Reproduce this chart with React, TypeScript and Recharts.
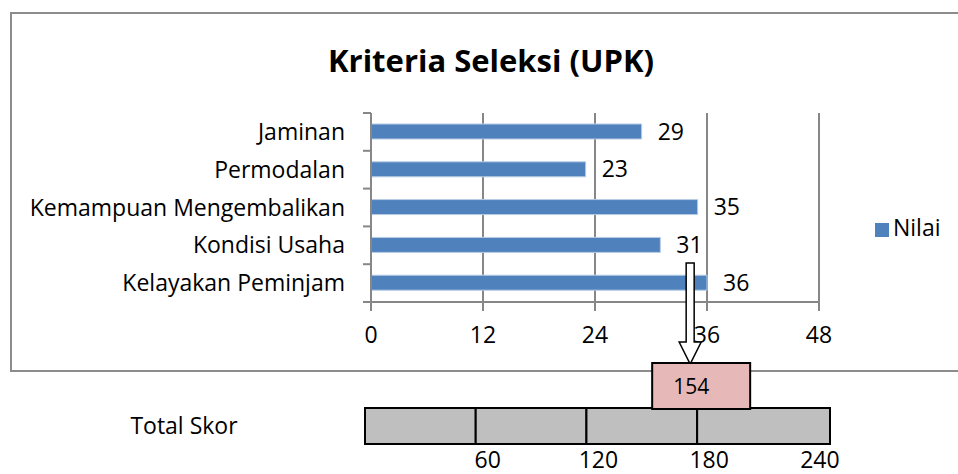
import React from 'react';
import {
  BarChart,
  Bar,
  XAxis,
  YAxis,
  CartesianGrid,
  Legend,
  LabelList,
  ReferenceDot,
} from 'recharts';

// kriteria seleksi UPK, urut dari atas ke bawah
const kriteria = [
  'Jaminan',
  'Permodalan',
  'Kemampuan Mengembalikan',
  'Kondisi Usaha',
  'Kelayakan Peminjam',
];
const nilai = [29, 23, 35, 31, 36];
const nilaiTicks = [0, 12, 24, 36, 48];

// skala total skor
const batasSkor = [60, 120, 180, 252];
const skorTicks = [60, 120, 180, 240];

const FONT = '"Open Sans", sans-serif';
const FS = 23;
const W = 958;
const H = 474;
const GRID = '#878787';
const BLUE = '#4f81bd';

const data = kriteria.map((name, i) => ({ name, Nilai: nilai[i] }));
const totalSkor = nilai.reduce((a, b) => a + b, 0);

const skorRow: Record<string, string | number> = { name: 'Total Skor' };
batasSkor.forEach((b, i) => {
  skorRow[`s${i}`] = b - (i === 0 ? 0 : batasSkor[i - 1]);
});

// plot area of the top chart
const TOP = { top: 113, bottom: 302, left: 371, right: 819 };
const band = (TOP.bottom - TOP.top) / kriteria.length;

const CategoryTick = (props: any) => {
  const { x, y, payload, index } = props;
  return (
    <g>
      <line x1={x - 8} x2={x} y1={y - band / 2} y2={y - band / 2} stroke={GRID} strokeWidth={2} />
      {index === kriteria.length - 1 && (
        <line x1={x - 8} x2={x} y1={y + band / 2} y2={y + band / 2} stroke={GRID} strokeWidth={2} />
      )}
      <text x={x - 26} y={y} dy={8} textAnchor="end" fill="#000" fontSize={FS} fontFamily={FONT}>
        {payload.value}
      </text>
    </g>
  );
};

const SkorLabel = (props: any) => {
  const { y, payload } = props;
  return (
    <text x={184} y={y} dy={8} textAnchor="middle" fill="#000" fontSize={FS} fontFamily={FONT}>
      {payload.value}
    </text>
  );
};

const TotalMarker = (props: any) => {
  const { cx, cy } = props;
  const ax = cx + 41;
  return (
    <g>
      <path
        d={`M${ax - 4},${cy - 163} L${ax + 4},${cy - 163} L${ax + 4},${cy - 84} L${ax + 11},${cy - 84} L${ax},${cy - 62} L${ax - 11},${cy - 84} L${ax - 4},${cy - 84} Z`}
        fill="#fff"
        stroke="#000"
        strokeWidth={1.5}
      />
      <rect x={cx + 3} y={cy - 63} width={98} height={46} fill="#e6b9b8" stroke="#000" strokeWidth={2} />
      <text x={cx + 42} y={cy - 39} dy={7} textAnchor="middle" fill="#000" fontSize={21} fontFamily={FONT}>
        {totalSkor}
      </text>
    </g>
  );
};

export default function App() {
  return (
    <div style={{ position: 'absolute', left: 0, top: 0, width: W, height: H, background: '#fff', overflow: 'hidden', fontFamily: FONT }}>
      <div
        style={{
          position: 'absolute',
          left: 10,
          top: 12,
          width: 960,
          height: 356,
          border: '2px solid #8c8c8c',
        }}
      />
      <div
        style={{
          position: 'absolute',
          left: 0,
          width: W,
          top: 37,
          textAlign: 'center',
          paddingLeft: 24,
          boxSizing: 'border-box',
          fontSize: 31,
          fontWeight: 700,
          color: '#000',
          lineHeight: '46px',
        }}
      >
        Kriteria Seleksi (UPK)
      </div>

      <div style={{ position: 'absolute', left: 0, top: 0 }}>
        <BarChart
          width={W}
          height={H}
          data={data}
          layout="vertical"
          barSize={15}
          margin={{ top: TOP.top, right: W - TOP.right, bottom: H - TOP.bottom - 60, left: 0 }}
        >
          <CartesianGrid horizontal={false} stroke={GRID} strokeWidth={2} />
          <XAxis
            type="number"
            domain={[0, 48]}
            ticks={nilaiTicks}
            height={60}
            stroke={GRID}
            strokeWidth={2}
            tickSize={9}
            tickMargin={16}
            tick={{ fill: '#000', fontSize: FS, fontFamily: FONT }}
          />
          <YAxis
            type="category"
            dataKey="name"
            width={TOP.left}
            stroke={GRID}
            strokeWidth={2}
            tickLine={false}
            tickSize={0}
            tickMargin={0}
            interval={0}
            tick={<CategoryTick />}
          />
          <Legend
            layout="vertical"
            align="center"
            verticalAlign="middle"
            iconType="square"
            iconSize={14}
            wrapperStyle={{ left: 875, top: 211, width: 100, fontSize: FS, fontFamily: FONT }}
            formatter={(v) => <span style={{ color: '#000' }}>{v}</span>}
          />
          <Bar dataKey="Nilai" fill={BLUE} stroke="#b9cde5" strokeWidth={1} isAnimationActive={false}>
            <LabelList dataKey="Nilai" position="right" offset={16} fill="#000" fontSize={FS} fontFamily={FONT} />
          </Bar>
        </BarChart>
      </div>

      <div style={{ position: 'absolute', left: 0, top: 0 }}>
        <BarChart
          width={W}
          height={H}
          data={[skorRow]}
          layout="vertical"
          barCategoryGap={0}
          margin={{ top: 408, right: W - 830, bottom: 0, left: 0 }}
        >
          <XAxis
            type="number"
            domain={[0, batasSkor[batasSkor.length - 1]]}
            ticks={skorTicks}
            height={30}
            axisLine={false}
            tickLine={false}
            tickSize={0}
            tickMargin={8}
            tick={{ fill: '#000', fontSize: FS, fontFamily: FONT, dx: 12 }}
          />
          <YAxis
            type="category"
            dataKey="name"
            width={365}
            axisLine={false}
            tickLine={false}
            tick={<SkorLabel />}
          />
          {batasSkor.map((_, i) => (
            <Bar
              key={i}
              dataKey={`s${i}`}
              stackId="skor"
              fill="#bfbfbf"
              stroke="#000"
              strokeWidth={2}
              isAnimationActive={false}
            />
          ))}
          <ReferenceDot x={totalSkor} y="Total Skor" shape={<TotalMarker />} />
        </BarChart>
      </div>
    </div>
  );
}
